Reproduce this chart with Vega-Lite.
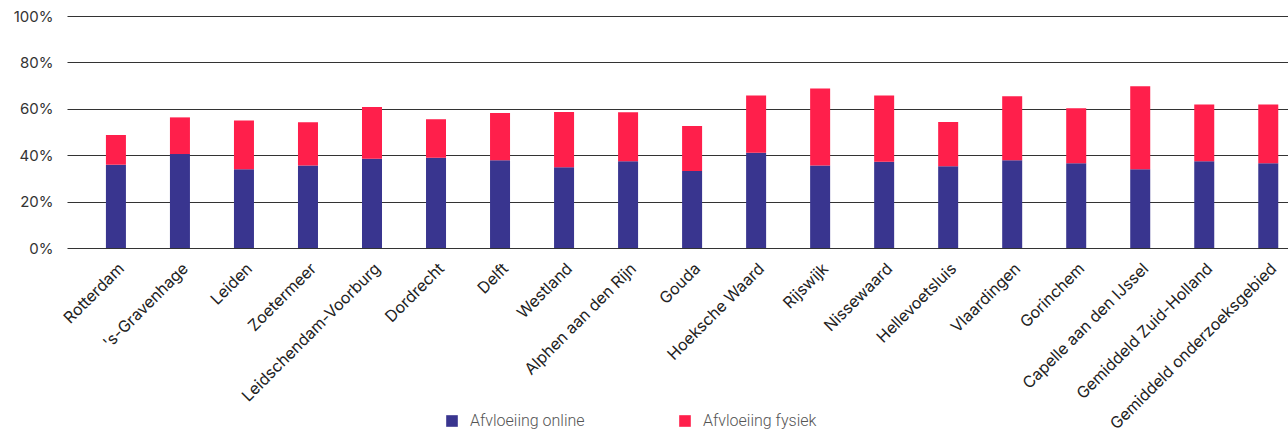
{
  "$schema": "https://vega.github.io/schema/vega-lite/v6.json",
  "autosize": {"type": "none"},
  "width": 1221,
  "height": 232,
  "padding": {"left": 67, "top": 16, "right": 0, "bottom": 183},
  "background": "white",
  "data": {"values": [
    {"g": "Rotterdam", "s": "Afvloeiing online", "o": 1, "v": 0.359},
    {"g": "Rotterdam", "s": "Afvloeiing fysiek", "o": 2, "v": 0.128},
    {"g": "'s-Gravenhage", "s": "Afvloeiing online", "o": 1, "v": 0.405},
    {"g": "'s-Gravenhage", "s": "Afvloeiing fysiek", "o": 2, "v": 0.158},
    {"g": "Leiden", "s": "Afvloeiing online", "o": 1, "v": 0.339},
    {"g": "Leiden", "s": "Afvloeiing fysiek", "o": 2, "v": 0.211},
    {"g": "Zoetermeer", "s": "Afvloeiing online", "o": 1, "v": 0.356},
    {"g": "Zoetermeer", "s": "Afvloeiing fysiek", "o": 2, "v": 0.186},
    {"g": "Leidschendam-Voorburg", "s": "Afvloeiing online", "o": 1, "v": 0.385},
    {"g": "Leidschendam-Voorburg", "s": "Afvloeiing fysiek", "o": 2, "v": 0.223},
    {"g": "Dordrecht", "s": "Afvloeiing online", "o": 1, "v": 0.389},
    {"g": "Dordrecht", "s": "Afvloeiing fysiek", "o": 2, "v": 0.166},
    {"g": "Delft", "s": "Afvloeiing online", "o": 1, "v": 0.378},
    {"g": "Delft", "s": "Afvloeiing fysiek", "o": 2, "v": 0.204},
    {"g": "Westland", "s": "Afvloeiing online", "o": 1, "v": 0.348},
    {"g": "Westland", "s": "Afvloeiing fysiek", "o": 2, "v": 0.238},
    {"g": "Alphen aan den Rijn", "s": "Afvloeiing online", "o": 1, "v": 0.374},
    {"g": "Alphen aan den Rijn", "s": "Afvloeiing fysiek", "o": 2, "v": 0.211},
    {"g": "Gouda", "s": "Afvloeiing online", "o": 1, "v": 0.332},
    {"g": "Gouda", "s": "Afvloeiing fysiek", "o": 2, "v": 0.194},
    {"g": "Hoeksche Waard", "s": "Afvloeiing online", "o": 1, "v": 0.411},
    {"g": "Hoeksche Waard", "s": "Afvloeiing fysiek", "o": 2, "v": 0.246},
    {"g": "Rijswijk", "s": "Afvloeiing online", "o": 1, "v": 0.356},
    {"g": "Rijswijk", "s": "Afvloeiing fysiek", "o": 2, "v": 0.332},
    {"g": "Nissewaard", "s": "Afvloeiing online", "o": 1, "v": 0.372},
    {"g": "Nissewaard", "s": "Afvloeiing fysiek", "o": 2, "v": 0.285},
    {"g": "Hellevoetsluis", "s": "Afvloeiing online", "o": 1, "v": 0.352},
    {"g": "Hellevoetsluis", "s": "Afvloeiing fysiek", "o": 2, "v": 0.191},
    {"g": "Vlaardingen", "s": "Afvloeiing online", "o": 1, "v": 0.378},
    {"g": "Vlaardingen", "s": "Afvloeiing fysiek", "o": 2, "v": 0.276},
    {"g": "Gorinchem", "s": "Afvloeiing online", "o": 1, "v": 0.365},
    {"g": "Gorinchem", "s": "Afvloeiing fysiek", "o": 2, "v": 0.237},
    {"g": "Capelle aan den IJssel", "s": "Afvloeiing online", "o": 1, "v": 0.339},
    {"g": "Capelle aan den IJssel", "s": "Afvloeiing fysiek", "o": 2, "v": 0.358},
    {"g": "Gemiddeld Zuid-Holland", "s": "Afvloeiing online", "o": 1, "v": 0.374},
    {"g": "Gemiddeld Zuid-Holland", "s": "Afvloeiing fysiek", "o": 2, "v": 0.244},
    {"g": "Gemiddeld onderzoeksgebied", "s": "Afvloeiing online", "o": 1, "v": 0.365},
    {"g": "Gemiddeld onderzoeksgebied", "s": "Afvloeiing fysiek", "o": 2, "v": 0.253}
  ]},
  "mark": {"type": "bar"},
  "encoding": {
    "x": {
      "field": "g", "type": "nominal", "sort": null,
      "scale": {"paddingInner": 0.6875, "paddingOuter": 0.38, "align": 0.8},
      "axis": {"title": null, "labelAngle": -45, "ticks": false, "domain": false, "labelFont": "Inter", "labelFontSize": 16, "labelColor": "#222222", "labelPadding": 12, "labelLimit": 300}
    },
    "y": {
      "field": "v", "type": "quantitative", "stack": "zero",
      "scale": {"domain": [0, 1]},
      "axis": {"title": null, "format": ".0%", "values": [0, 0.2, 0.4, 0.6, 0.8, 1], "ticks": false, "domain": false, "gridColor": "#333333", "gridWidth": 1, "gridOpacity": 1, "labelFont": "Inter", "labelFontSize": 15, "labelColor": "#333333", "labelPadding": 14}
    },
    "color": {
      "field": "s", "type": "nominal",
      "scale": {"domain": ["Afvloeiing online", "Afvloeiing fysiek"], "range": ["#39358f", "#ff1f4b"]},
      "legend": {"title": null, "orient": "none", "direction": "horizontal", "legendX": 377, "legendY": 397, "symbolType": "square", "symbolSize": 135, "symbolStrokeWidth": 0, "labelFont": "Roboto", "labelFontSize": 16, "labelColor": "#555555", "labelFontWeight": 300, "labelOffset": 10, "columnPadding": 92}
    },
    "order": {"field": "o"}
  },
  "config": {"view": {"stroke": null}}
}
